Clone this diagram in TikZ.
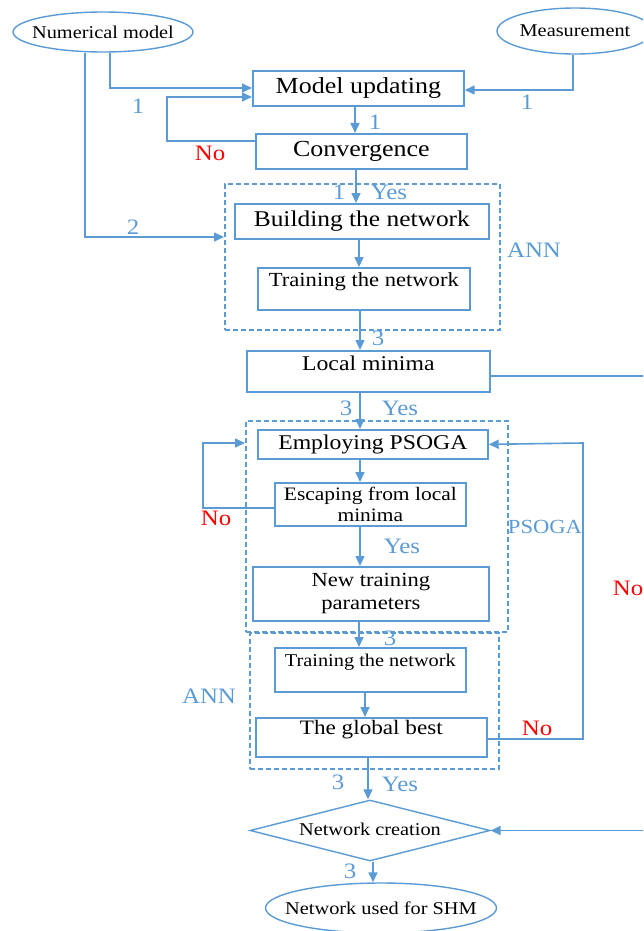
\documentclass[tikz,border=0pt]{standalone}
\usepackage{fontspec}
\setmainfont{Liberation Serif}[FakeStretch=1.13]
\usetikzlibrary{arrows.meta,shapes.geometric}
\definecolor{bl}{HTML}{5B9BD5}
\definecolor{rd}{HTML}{FF0000}
\begin{document}
\begin{tikzpicture}[x=1pt,y=-1pt,
  box/.style={draw=bl,line width=1.7pt,inner sep=0pt,anchor=north west,fill=white,text=black},
  ell/.style={draw=bl,ellipse,line width=1.4pt,inner sep=0pt,fill=white,text=black},
  conn/.style={draw=bl,line width=1.6pt},
  arr/.style={conn,-{Triangle[length=10pt,width=9pt]}},
  grp/.style={draw=bl,line width=1.7pt,dash pattern=on 5pt off 3pt,anchor=north west,inner sep=0pt},
  lbl/.style={text=bl,inner sep=0pt,font=\fontsize{22}{24}\selectfont},
  nolbl/.style={text=rd,inner sep=0pt,font=\fontsize{22}{24}\selectfont},
]
\useasboundingbox (0,0) rectangle (643,931);
\clip (0,0) rectangle (643,931);

% groups
\node[grp, minimum width=275pt, minimum height=146pt] (ann1) at (224,183) {};
\node[grp, minimum width=262pt, minimum height=211pt] (psoga) at (245,420) {};
\node[grp, minimum width=249pt, minimum height=136pt] (ann2) at (249,632) {};

% helper coordinates
\coordinate (x85) at (85,0);
\coordinate (x110) at (110,0);
\coordinate (x167) at (167,0);
\coordinate (x203) at (203,0);
\coordinate (x355) at (355,0);
\coordinate (x356) at (356,0);
\coordinate (x359) at (359,0);
\coordinate (x360) at (360,0);
\coordinate (x365) at (365,0);
\coordinate (x368) at (368,0);
\coordinate (x373) at (373,0);
\coordinate (x573) at (573,0);
\coordinate (x583) at (583,0);
\coordinate (xoff) at (665,0);
\coordinate (y88) at (0,88);
\coordinate (y90) at (0,90);
\coordinate (y97) at (0,97);
\coordinate (y141) at (0,141);
\coordinate (y237) at (0,237);
\coordinate (y376) at (0,376);
\coordinate (y443) at (0,443);
\coordinate (y508) at (0,508);
\coordinate (y739) at (0,739);

% nodes
\node[ell, minimum width=180pt, minimum height=40pt, font=\fontsize{18}{20}\selectfont] (num) at (103,32) {\makebox[0pt]{Numerical model}};
\node[ell, minimum width=156pt, minimum height=46pt, font=\fontsize{18}{20}\selectfont] (meas) at (575,31) {\makebox[0pt]{\raisebox{-2pt}{Measurement}}};
\node[box, minimum width=211pt, minimum height=35pt, font=\fontsize{23}{26}\selectfont] (mu) at (252,70) {Model updating};
\node[box, minimum width=211pt, minimum height=35pt, font=\fontsize{23}{26}\selectfont] (conv) at (255,133) {Convergence};
\node[box, minimum width=254pt, minimum height=35pt, font=\fontsize{22.5}{26}\selectfont] (build) at (234,203) {Building the network};
\node[box, minimum width=212pt, text height=19pt, text depth=23pt, font=\fontsize{20}{24}\selectfont] (train1) at (257,267) {Training the network};
\node[box, minimum width=243pt, text height=19.3pt, text depth=21.7pt, font=\fontsize{21}{24}\selectfont] (locmin) at (246,350) {Local minima};
\node[box, minimum width=230pt, minimum height=29pt, font=\fontsize{21}{24}\selectfont] (employ) at (257,429) {Employing PSOGA};
\node[box, minimum width=191pt, minimum height=43pt, align=center, font=\fontsize{19}{21}\selectfont] (escape) at (274,482) {Escaping from local\\minima};
\node[box, minimum width=236pt, minimum height=54pt, align=center, font=\fontsize{20}{23}\selectfont] (newtrain) at (252,566) {New training\\parameters};
\node[box, minimum width=191pt, text height=18.4pt, text depth=25.6pt, font=\fontsize{18}{21}\selectfont] (train2) at (274,647) {Training the network};
\node[box, minimum width=231pt, text height=17pt, text depth=22pt, font=\fontsize{20.5}{24}\selectfont] (glob) at (255,717) {The global best};
\node[draw=bl, line width=1.4pt, diamond, shape aspect=4, minimum width=240pt, minimum height=61pt, inner sep=0pt, fill=white, font=\fontsize{18}{20}\selectfont] (netc) at (370,830.5) {\raisebox{3pt}{Network creation}};
\node[ell, minimum width=231pt, minimum height=50pt, font=\fontsize{18}{20}\selectfont] (shm) at (381,908) {\makebox[0pt]{Network used for SHM}};

% connectors
\draw[arr] (num.south -| x110) |- (mu.west |- y88);
\draw[arr] (conv.west |- y141) -| (x167 |- y97) -- (mu.west |- y97);
\draw[arr] (meas.south -| x573) |- (mu.east |- y90);
\draw[arr] (mu.south -| x355) -- (conv.north -| x355);
\draw[arr] (conv.south -| x356) -- (build.north -| x356);
\draw[arr] (num.south -| x85) |- (ann1.west |- y237);
\draw[arr] (build.south -| x359) -- (train1.north -| x359);
\draw[arr] (train1.south -| x360) -- (locmin.north -| x360);
\draw[arr] (locmin.south -| x360) -- (employ.north -| x360);
\draw[arr] (employ.south -| x360) -- (escape.north -| x360);
\draw[arr] (escape.west |- y508) -| (x203 |- y443) -- (psoga.west |- y443);
\draw[arr] (escape.south -| x360) -- (newtrain.north -| x360);
\draw[arr] (newtrain.south -| x359) -- (train2.north -| x359);
\draw[arr] (train2.south -| x365) -- (glob.north -| x365);
\draw[arr] (glob.south -| x368) -- (netc.north -| x368);
\draw[arr] (glob.east |- y739) -| (x583 |- y443) -- (employ.east);
\draw[arr] (locmin.east |- y376) -| (xoff |- netc.east) -- (netc.east);
\draw[arr] (netc.south -| x373) -- (shm.north -| x373);

% labels
\node[lbl] (l1a) at (138,106) {1};
\node[lbl] (l1b) at (527,102) {1};
\node[lbl] (l1c) at (375,122) {1};
\node[nolbl] (no1) at (210,153) {No};
\node[lbl] (l1d) at (339,192) {1};
\node[lbl] (yes1) at (389,192) {Yes};
\node[lbl] (l2) at (133,227) {2};
\node[lbl] (annl1) at (534,250) {ANN};
\node[lbl] (l3a) at (378,338) {3};
\node[lbl] (l3b) at (346,408) {3};
\node[lbl] (yes2) at (400,408) {Yes};
\node[nolbl] (no2) at (216,518) {No};
\node[lbl] (yes3) at (402,546) {Yes};
\node[lbl, font=\fontsize{20}{22}\selectfont] (psogal) at (545,527) {PSOGA};
\node[nolbl] (no3) at (628,588) {No};
\node[lbl] (l3c) at (390,638) {3};
\node[lbl] (annl2) at (209,696) {ANN};
\node[nolbl] (no4) at (537,728) {No};
\node[lbl] (l3d) at (338,782) {3};
\node[lbl] (yes4) at (400,784) {Yes};
\node[lbl] (l3e) at (350,871) {3};
\end{tikzpicture}
\end{document}
